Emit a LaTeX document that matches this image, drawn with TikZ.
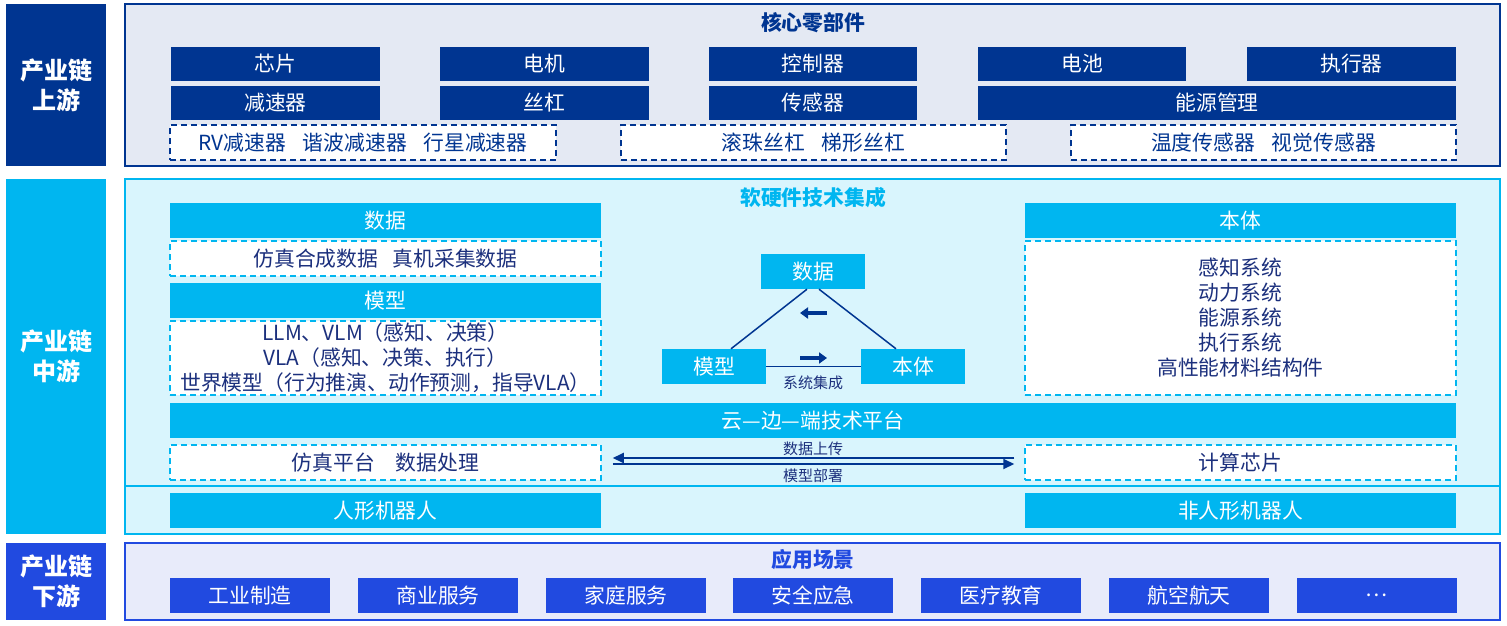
\documentclass[tikz,border=0pt]{standalone}
\usepackage{fontspec}
\setmainfont{Noto Sans CJK SC}
\usetikzlibrary{arrows.meta}

\tikzset{
  every node/.style={inner sep=0pt, font=\fontsize{20.8}{25}\selectfont},
  sidelbl/.style={text=white, minimum width=100pt, align=center,
    font=\fontsize{24}{30}\selectfont\bfseries},
  panel/.style={line width=2pt, minimum width=1375pt},
  navybox/.style={fill=navy, text=white, minimum height=34pt},
  navydash/.style={draw=navy, fill=white, text=navy, line width=1.5pt,
    dash pattern=on 6pt off 4pt, minimum height=35pt},
  cyanbox/.style={fill=cyanc, text=white, minimum height=35pt},
  cyandash/.style={draw=cyanc, fill=white, text=textnavy, line width=1.5pt,
    dash pattern=on 6pt off 4pt, minimum height=35pt, align=center},
  royalbox/.style={fill=royal, text=white, minimum width=160pt, minimum height=35pt},
  title/.style={font=\fontsize{20.8}{25}\selectfont\bfseries},
  smalllbl/.style={text=textnavy, font=\fontsize{15}{18}\selectfont}
}

\begin{document}
\begin{tikzpicture}[x=1pt,y=-1pt]
    % colours %
    \definecolor{navy}{RGB}{0,53,145}
    \definecolor{textnavy}{RGB}{28,48,125}
    \definecolor{cyanc}{RGB}{0,182,240}
    \definecolor{royal}{RGB}{33,74,224}
    \definecolor{upfill}{RGB}{228,233,243}
    \definecolor{midfill}{RGB}{217,245,253}
    \definecolor{lowfill}{RGB}{232,235,250}
    \useasboundingbox (0,0) rectangle (1507,626);

    % upstream %
    \node[sidelbl, fill=navy, minimum height=162pt] (upl) at (56,85) {产业链\\上游};
    \node[panel, draw=navy, fill=upfill, minimum height=162pt] (uppanel) at (812.5,85) {};
    \node[title, text=navy] (uptitle) at (813,23) {核心零部件};
    \node[navybox, minimum width=209pt] (chip) at (275.5,64) {芯片};
    \node[navybox, minimum width=209pt] (motor) at (544.5,64) {电机};
    \node[navybox, minimum width=208pt] (ctrl) at (813,64) {控制器};
    \node[navybox, minimum width=208pt] (batt) at (1082,64) {电池};
    \node[navybox, minimum width=209pt] (act) at (1351.5,64) {执行器};
    \node[navybox, minimum width=209pt] (reducer) at (275.5,103) {减速器};
    \node[navybox, minimum width=209pt] (screw) at (544.5,103) {丝杠};
    \node[navybox, minimum width=208pt] (sensor) at (813,103) {传感器};
    \node[navybox, minimum width=478pt] (energy) at (1217,103) {能源管理};
    \node[navydash, minimum width=386pt] (reducerlist) at (363,142.5)
      {RV减速器\hspace{0.8em}谐波减速器\hspace{0.8em}行星减速器};
    \node[navydash, minimum width=385pt] (screwlist) at (813.5,142.5)
      {滚珠丝杠\hspace{0.8em}梯形丝杠};
    \node[navydash, minimum width=385pt] (sensorlist) at (1263.5,142.5)
      {温度传感器\hspace{0.8em}视觉传感器};

    % midstream %
    \node[sidelbl, fill=cyanc, minimum height=355pt] (midl) at (56,356) {产业链\\中游};
    \node[panel, draw=cyanc, fill=midfill, minimum height=355pt] (midpanel) at (812.5,356) {};
    \draw[cyanc, line width=2pt] (125,486) -- (1500,486);
    \node[title, text=cyanc] (midtitle) at (813,198) {软硬件技术集成};

    \node[cyanbox, minimum width=431pt] (data) at (385.5,220.5) {数据};
    \node[cyandash, minimum width=431pt] (datalist) at (385.5,258.5)
      {仿真合成数据\hspace{0.7em}真机采集数据};
    \node[cyanbox, minimum width=431pt] (model) at (385.5,300.5) {模型};
    \node[cyandash, minimum width=431pt, minimum height=74pt] (modellist) at (385.5,358)
      {LLM、VLM（感知、决策）\\VLA（感知、决策、执行）\\世界模型（行为推演、动作预测，指导VLA）};
    \node[cyanbox, minimum width=431pt] (body) at (1240.5,220.5) {本体};
    \node[cyandash, minimum width=431pt, minimum height=154pt] (bodylist) at (1240.5,318)
      {感知系统\\动力系统\\能源系统\\执行系统\\高性能材料结构件};

    % triangle %
    \node[cyanbox, minimum width=104pt] (tdata) at (813,271.5) {数据};
    \node[cyanbox, minimum width=104pt] (tmodel) at (714,366.5) {模型};
    \node[cyanbox, minimum width=104pt] (tbody) at (913,366.5) {本体};
    \draw[navy, line width=1.5pt] ([xshift=-6pt]tdata.south) -- ([xshift=17pt]tmodel.north);
    \draw[navy, line width=1.5pt] ([xshift=6pt]tdata.south) -- ([xshift=-17pt]tbody.north);
    \draw[navy, line width=1.5pt] (tmodel.east) -- (tbody.west);
    \node[smalllbl] (sysint) at (813,383) {系统集成};
    \coordinate (la) at (827,313);
    \coordinate (lb) at (800,313);
    \coordinate (ra) at (800,358);
    \coordinate (rb) at (827,358);
    \draw[navy, line width=4.5pt, -{Triangle[length=8pt,width=11pt]}] (la) -- (lb);
    \draw[navy, line width=4.5pt, -{Triangle[length=8pt,width=11pt]}] (ra) -- (rb);

    % platform %
    \node[cyanbox, minimum width=1286pt] (platform) at (813,420.5) {云—边—端技术平台};
    \node[cyandash, minimum width=431pt] (simproc) at (385.5,462.5)
      {仿真平台\hspace{1em}数据处理};
    \node[cyandash, minimum width=431pt] (compchip) at (1240.5,462.5) {计算芯片};
    \draw[navy, line width=2pt, -{Triangle[length=11pt,width=10pt]}, shorten <=10pt, shorten >=11pt]
      ([yshift=4.5pt]compchip.west) -- ([yshift=4.5pt]simproc.east);
    \draw[navy, line width=2pt, -{Triangle[length=11pt,width=10pt]}, shorten <=11pt, shorten >=10pt]
      ([yshift=-1.5pt]simproc.east) -- ([yshift=-1.5pt]compchip.west);
    \node[smalllbl] (upload) at (813,449) {数据上传};
    \node[smalllbl] (deploy) at (813,476) {模型部署};
    \node[cyanbox, minimum width=431pt] (humanoid) at (385.5,510.5) {人形机器人};
    \node[cyanbox, minimum width=431pt] (nonhumanoid) at (1240.5,510.5) {非人形机器人};

    % downstream %
    \node[sidelbl, fill=royal, minimum height=77pt] (lowl) at (56,581.5) {产业链\\下游};
    \node[panel, draw=royal, fill=lowfill, minimum height=77pt] (lowpanel) at (812.5,581.5) {};
    \node[title, text=royal] (lowtitle) at (813,560) {应用场景};
    \node[royalbox] (industry) at (250,595.5) {工业制造};
    \node[royalbox] (commerce) at (438,595.5) {商业服务};
    \node[royalbox] (home) at (626,595.5) {家庭服务};
    \node[royalbox] (safety) at (813,595.5) {安全应急};
    \node[royalbox] (medical) at (1001,595.5) {医疗教育};
    \node[royalbox] (aero) at (1189,595.5) {航空航天};
    \node[royalbox] (more) at (1376.5,595.5) {…};
  \end{tikzpicture}
\end{document}
